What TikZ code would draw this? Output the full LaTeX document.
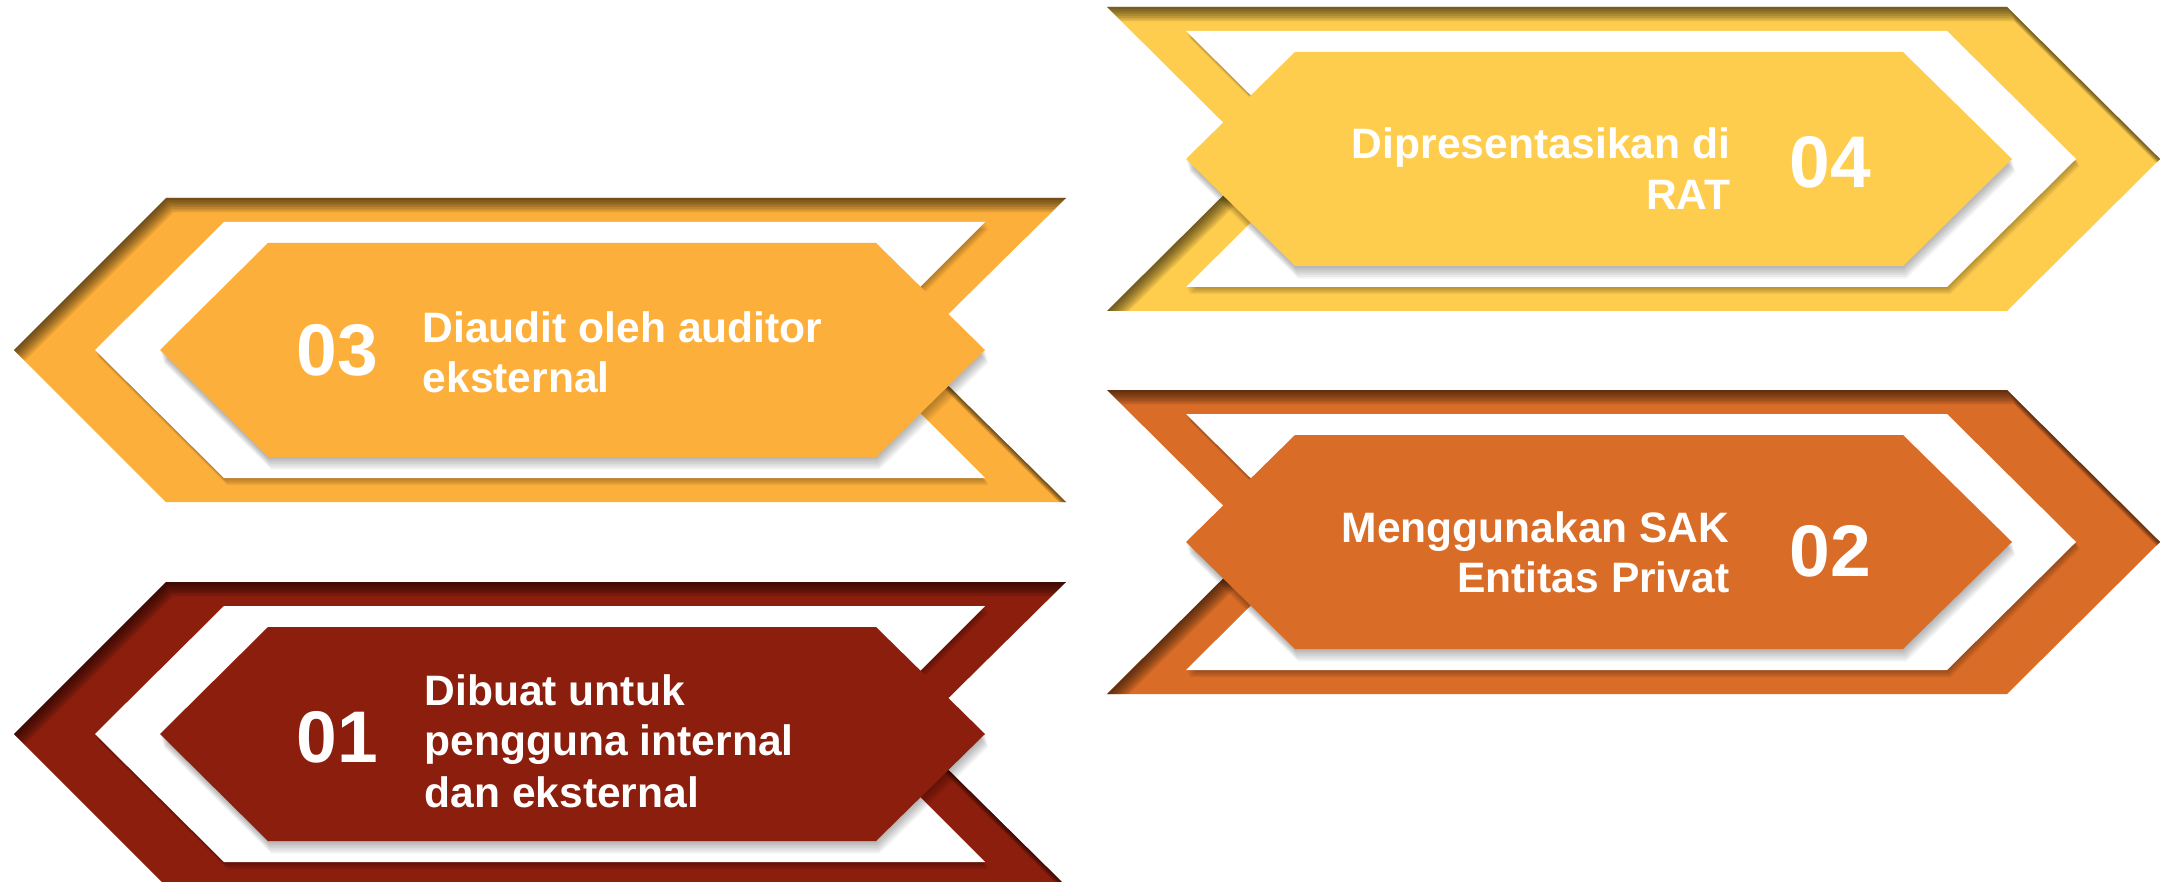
\documentclass[tikz,border=0pt]{standalone}
\usepackage{fontspec}
\setmainfont{Liberation Sans}
\definecolor{cYel}{RGB}{255,205,77}
\definecolor{cOra}{RGB}{253,175,59}
\definecolor{cBrn}{RGB}{217,108,39}
\definecolor{cRed}{RGB}{140,30,13}
% left-pointing pieces, #1 = centre y
\newcommand\chevL[1]{(14,#1) -- (166,{#1-152}) -- (1066,{#1-152}) -- (912,#1) -- (1066,{#1+152}) -- (166,{#1+152}) -- cycle}
\newcommand\holeL[1]{(95,#1) -- (224,{#1-128}) -- (985,{#1-128}) -- (857,#1) -- (985,{#1+128}) -- (224,{#1+128}) -- cycle}
\newcommand\hexL[1]{(160,#1) -- (268,{#1-107}) -- (876,{#1-107}) -- (985,#1) -- (876,{#1+107}) -- (268,{#1+107}) -- cycle}
% right-pointing pieces
\newcommand\chevR[1]{(1107,{#1-152}) -- (2007,{#1-152}) -- (2160,#1) -- (2007,{#1+152}) -- (1107,{#1+152}) -- (1260,#1) -- cycle}
\newcommand\holeR[1]{(1186,{#1-128}) -- (1947,{#1-128}) -- (2076,#1) -- (1947,{#1+128}) -- (1186,{#1+128}) -- (1315,#1) -- cycle}
\newcommand\hexR[1]{(1186,#1) -- (1295,{#1-107}) -- (1903,{#1-107}) -- (2012,#1) -- (1903,{#1+107}) -- (1295,{#1+107}) -- cycle}
% #1 outer, #2 hole, #3 hex macros, #4 centre, #5 colour
\newcommand\infostage[5]{%
  \fill[#5] #1{#4};
  \begin{scope}
    \clip #1{#4};
    \foreach \k in {1,...,8}
      \fill[black,opacity=.09,even odd rule,shift={(0.9*\k,1.8*\k)}] (-300,-300) rectangle (2500,1300) #1{#4};
    \foreach \k in {1,...,6}
      \fill[black,opacity=.05,shift={(0.6*\k,1.2*\k)}] #2{#4};
  \end{scope}
  \fill[white] #2{#4};
  \foreach \k in {1,...,7}
    \fill[black,opacity=.045,shift={(0.5*\k,1.8*\k)}] #3{#4};
  \fill[#5] #3{#4};
}
\tikzset{
  lbl/.style={text=white,font=\fontsize{12.1}{14}\selectfont\bfseries,inner sep=0pt},
  num/.style={text=white,font=\fontsize{20.8}{24}\selectfont\bfseries,inner sep=0pt,anchor=base west}
}
\begin{document}
\begin{tikzpicture}[x=0.01cm,y=-0.01cm]
\useasboundingbox[fill=white] (0,0) rectangle (2160,882);
% stage 04
\infostage{\chevR}{\holeR}{\hexR}{159}{cYel}
% stage 03
\infostage{\chevL}{\holeL}{\hexL}{350}{cOra}
% stage 02
\infostage{\chevR}{\holeR}{\hexR}{542}{cBrn}
% stage 01
\infostage{\chevL}{\holeL}{\hexL}{734}{cRed}
% texts
\node[num] (n4) at (1789,188) {04};
\node[lbl,anchor=base east] (t4a) at (1731,159) {Dipresentasikan di};
\node[lbl,anchor=base east] (t4b) at (1731,209) {RAT};
\node[num] (n3) at (296,376) {03};
\node[lbl,anchor=base west] (t3a) at (422,343) {Diaudit oleh auditor};
\node[lbl,anchor=base west] (t3b) at (422,392) {eksternal};
\node[num] (n2) at (1789,576) {02};
\node[lbl,anchor=base east] (t2a) at (1730,542) {Menggunakan SAK};
\node[lbl,anchor=base east] (t2b) at (1730,592) {Entitas Privat};
\node[num] (n1) at (296,762) {01};
\node[lbl,anchor=base west] (t1a) at (424,705) {Dibuat untuk};
\node[lbl,anchor=base west] (t1b) at (424,755) {pengguna internal};
\node[lbl,anchor=base west] (t1c) at (424,807) {dan eksternal};
\end{tikzpicture}
\end{document}
